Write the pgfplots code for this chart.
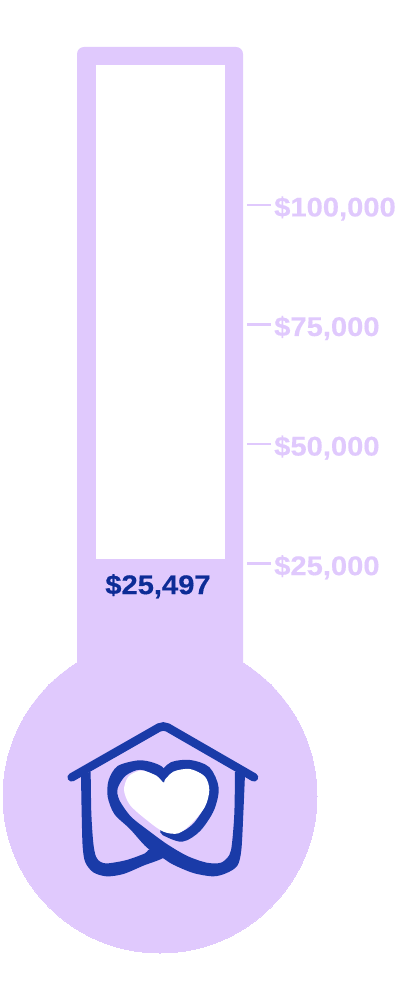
\documentclass[border=0pt]{standalone}
\usepackage{fontspec}
\setmainfont{Liberation Sans Bold}[FakeStretch=1.08, FakeBold=0.4]
\usepackage{pgfplots}
\pgfplotsset{compat=1.18}
\definecolor{lav}{HTML}{E0C9FD}
\definecolor{logoblue}{HTML}{1A3BA8}
\definecolor{valblue}{HTML}{0D2C96}
\begin{document}
\begin{tikzpicture}[x=1pt,y=1pt]
\useasboundingbox (0,0) rectangle (400pt,1000pt);
% thermometer body
\begin{axis}[
  scale only axis, width=400pt, height=1000pt, at={(0,0)}, anchor=south west,
  xmin=0, xmax=400, ymin=0, ymax=1000, y dir=reverse,
  hide axis, clip=false]
\addplot[draw=none, fill=lav, rounded corners=7pt] coordinates {
  (77,700) (77,47) (243,47) (243,700)} -- cycle;
\addplot[only marks, mark=*, mark size=157pt, mark options={draw=lav, line width=0pt, fill=lav}]
  coordinates {(160,796)};
\end{axis}
% logo, in units of a third of a pixel
\begin{axis}[
  scale only axis, width=400pt, height=1000pt, at={(0,0)}, anchor=south west,
  xmin=-150, xmax=1050, ymin=-2100, ymax=900, y dir=reverse,
  hide axis, clip=false]
% right lobe, goes under the heart
\addplot[logoblue, line width=10pt, line cap=round, smooth] coordinates {
  (340,228) (370,200) (420,195) (468,213) (491,265) (478,325) (440,382) (395,410) (345,392)};
% heart
\addplot[draw=none, fill=white, smooth] coordinates {
  (340,245) (310,220) (270,212) (235,230) (222,270) (240,315) (290,360)
  (340,395) (385,400) (425,370) (465,320) (478,270) (465,230) (420,207)
  (370,215) (340,245)} -- cycle;
% roof
\addplot[logoblue, line width=8.5pt, line cap=round, rounded corners=5pt] coordinates {
  (65,232) (340,75) (612,232)};
% left wall and foot
\addplot[draw=none, fill=logoblue, smooth] coordinates {
  (93,225) (95,340) (98,440) (106,487) (130,517) (170,529) (220,522)
  (280,497) (345,470) (330,438) (295,450) (285,460) (230,480) (175,490)
  (152,486) (138,470) (130,430) (124,340) (122,215)} -- cycle;
% right wall, foot and ribbon round the left lobe
\addplot[draw=none, fill=logoblue, smooth] coordinates {
  (585,222) (580,340) (574,450) (562,497) (530,519) (490,529) (430,519)
  (370,494) (340,475) (290,442) (240,387) (193,342) (173,290) (176,240)
  (203,198) (265,181) (310,188) (342,206) (342,247) (320,227) (270,209)
  (227,227) (203,265) (208,300) (243,350) (297,393) (352,433) (412,468)
  (470,488) (513,488) (538,465) (546,430) (553,340) (555,215)} -- cycle;
\end{axis}
% scale and value
\begin{axis}[
  scale only axis, width=247pt, height=1000pt, at={(0,0)}, anchor=south west,
  xmin=0, xmax=247, ymin=-66220, ymax=142860,
  clip=false, hide x axis, axis y line*=right, axis line style={draw=none},
  ytick={25000,50000,75000,100000},
  yticklabels={{\$25,000},{\$50,000},{\$75,000},{\$100,000}},
  tick align=outside, major tick length=24pt,
  y tick style={lav, line width=2.5pt},
  yticklabel style={lav, inner sep=0pt, xshift=3pt, yshift=-3.5pt,
    font=\fontsize{27}{32}\selectfont}]
\addplot[draw=none, fill=white] coordinates {
  (95.5,25983) (95.5,129270) (225,129270) (225,25983)} -- cycle;
\node[valblue, font=\fontsize{27}{32}\selectfont] at (axis cs:158,20300) {\$25,497};
\end{axis}
\end{tikzpicture}
\end{document}
